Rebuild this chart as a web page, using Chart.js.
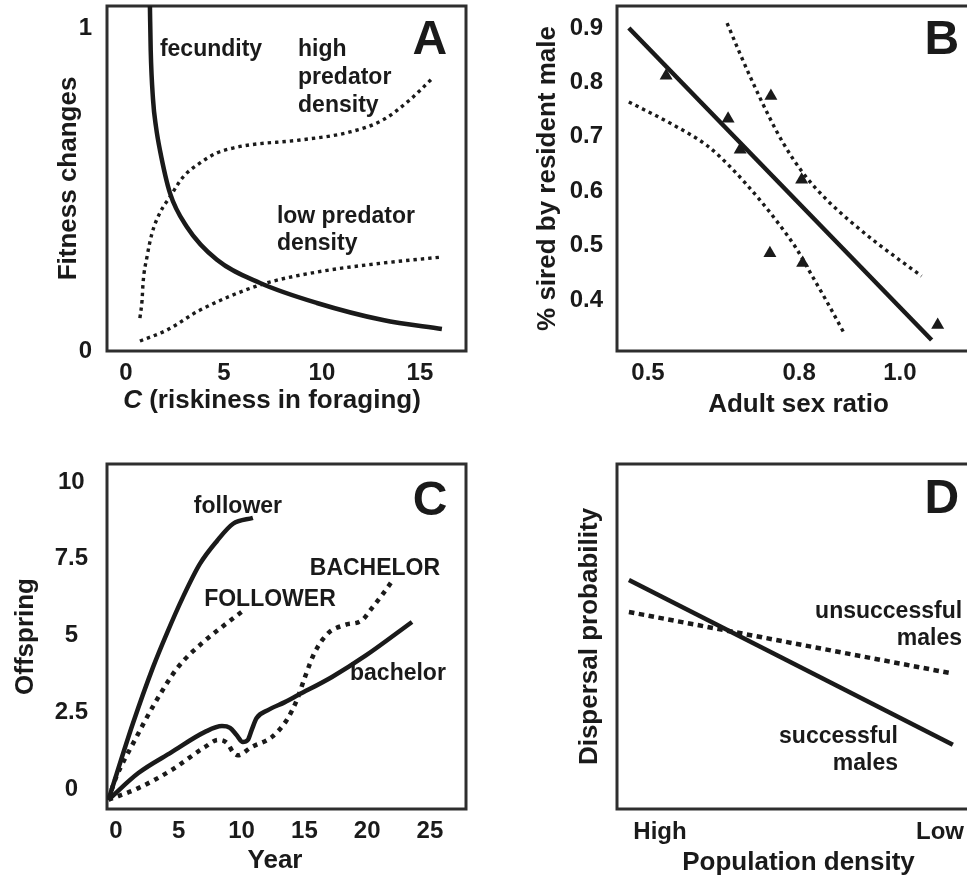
<!DOCTYPE html>
<html>
<head>
<meta charset="utf-8">
<script src="https://cdn.jsdelivr.net/npm/chart.js@4.4.1/dist/chart.umd.min.js"></script>
<style>
html, body { margin:0; padding:0; background:#fff; overflow:hidden; width:967px; height:878px; }
canvas { position:absolute; }
#panelA { left:0; top:0; }
#panelB { left:480px; top:0; }
#panelC { left:0; top:440px; }
#panelD { left:480px; top:440px; }
</style>
</head>
<body>
<canvas id="panelA" width="480" height="430"></canvas>
<canvas id="panelB" width="500" height="430"></canvas>
<canvas id="panelC" width="480" height="438"></canvas>
<canvas id="panelD" width="500" height="438"></canvas>
<script>
// ---- panel A: fitness changes vs riskiness in foraging
var riskTicks = [0, 5, 10, 15];
var fitnessTicks = [0, 1];
var fecundityC   = [1.22, 1.26, 1.38, 1.53, 1.73, 2.24, 3.11, 4.64, 6.84, 9.74, 13.11, 16.12];
var fecundityFit = [1.071, 0.935, 0.780, 0.696, 0.624, 0.491, 0.385, 0.283, 0.211, 0.149, 0.096, 0.068];
var highPredC   = [0.71, 0.82, 0.87, 1.07, 1.33, 1.73, 2.24, 2.91, 3.78, 4.64, 5.46, 6.33, 8.88, 11.43, 13.1, 14.49, 15.66];
var highPredFit = [0.102, 0.158, 0.211, 0.292, 0.366, 0.429, 0.478, 0.540, 0.584, 0.615, 0.630, 0.640, 0.655, 0.680, 0.717, 0.780, 0.848];
var lowPredC   = [0.71, 2.09, 3.78, 6.84, 9.74, 13.11, 16.17];
var lowPredFit = [0.031, 0.065, 0.127, 0.205, 0.245, 0.273, 0.292];

// ---- panel B: % sired by resident male vs adult sex ratio
var sexRatioTicks = [0.5, 0.8, 1.0];
var siredTicks = [0.4, 0.5, 0.6, 0.7, 0.8, 0.9];
var obsSexRatio = [0.536, 0.659, 0.683, 0.744, 0.805, 0.742, 0.807, 1.075];
var obsSired    = [0.812, 0.733, 0.676, 0.775, 0.621, 0.486, 0.468, 0.354];
var fitSexRatio = [0.462, 1.063];
var fitSired    = [0.900, 0.3265];
var upperCiX = [0.657, 0.683, 0.708, 0.742, 0.768, 0.808, 0.855, 0.901, 0.954, 1.0, 1.043];
var upperCiY = [0.909, 0.852, 0.800, 0.734, 0.689, 0.633, 0.584, 0.545, 0.505, 0.473, 0.444];
var lowerCiX = [0.462, 0.55, 0.617, 0.663, 0.722, 0.762, 0.795, 0.821, 0.855, 0.891];
var lowerCiY = [0.764, 0.722, 0.684, 0.645, 0.584, 0.537, 0.494, 0.452, 0.397, 0.336];

// ---- panel C: offspring vs year
var yearTicks = [0, 5, 10, 15, 20, 25];
var offspringTicks = [0, 2.5, 5, 7.5, 10];
var followerYear = [-0.6, 1.35, 2.95, 4.06, 5.33, 6.69, 8.04, 9.32, 10.9];
var followerOff  = [-0.35, 2.14, 3.97, 5.08, 6.25, 7.34, 8.08, 8.64, 8.83];
var followerBigYear = [-0.6, -0.08, 1.51, 3.1, 4.94, 6.85, 8.44, 10.2];
var followerBigOff  = [-0.35, 0.29, 1.6, 2.8, 3.97, 4.75, 5.28, 5.83];
var bachelorYear = [-0.6, 1.78, 4.43, 7.09, 8.44, 9.08, 9.6, 10.1, 10.5, 10.8, 11.2, 12.1, 13.45, 14.5, 17.2, 19.9, 23.57];
var bachelorOff  = [-0.35, 0.52, 1.2, 1.86, 2.05, 1.99, 1.76, 1.53, 1.6, 1.92, 2.31, 2.57, 2.83, 3.06, 3.65, 4.35, 5.44];
var bachelorBigYear = [-0.6, 1.78, 4.43, 7.09, 8.12, 8.84, 9.32, 9.7, 10.8, 12.4, 13.6, 14.4, 15.05, 15.8, 16.9, 18.2, 19.6, 20.3, 21.3, 22.05];
var bachelorBigOff  = [-0.35, 0.03, 0.62, 1.37, 1.6, 1.5, 1.2, 1.1, 1.37, 1.69, 2.25, 2.9, 3.65, 4.43, 5.08, 5.34, 5.5, 5.85, 6.38, 6.81];

// ---- panel D: dispersal probability vs population density
var densityLabels = ['High', 'Low'];
var successfulX = [-0.111, 1.046];
var successfulY = [0.664, 0.186];
var unsuccessfulX = [-0.111, 1.036];
var unsuccessfulY = [0.571, 0.394];

var INK = '#1a1a1a';
var FONT = '"Liberation Sans", Arial, Helvetica, sans-serif';
Chart.defaults.font.family = FONT;
Chart.defaults.font.weight = 'bold';
Chart.defaults.color = INK;

function pts(xs, ys){
	return xs.map(function(x, i){ return {x:x, y:ys[i]}; });
}
function solid(xs, ys, w){
	return {data:pts(xs, ys), showLine:true, borderColor:INK, borderWidth:w, pointRadius:0, cubicInterpolationMode:'monotone', fill:false};
}
function dotted(xs, ys, w, dash){
	var d = solid(xs, ys, w);
	d.borderDash = dash;
	return d;
}
function fontStr(italic, size){
	return (italic ? 'italic ' : '') + 'bold ' + size + 'px ' + FONT;
}

// box round the plot area
var boxPlugin = {
	id:'box',
	beforeDatasetsDraw:function(chart){
		var a = chart.chartArea, ctx = chart.ctx;
		ctx.save();
		ctx.strokeStyle = '#2e2e2e';
		ctx.lineWidth = 3;
		ctx.strokeRect(a.left, a.top, a.right - a.left, a.bottom - a.top);
		ctx.restore();
	}
};
// text labels placed in data coordinates
var notesPlugin = {
	id:'notes',
	afterDatasetsDraw:function(chart, args, opts){
		var ctx = chart.ctx, xs = chart.scales.x, ys = chart.scales.y;
		ctx.save();
		ctx.fillStyle = INK;
		ctx.textBaseline = 'middle';
		ctx.textAlign = 'left';
		(opts.items || []).forEach(function(n){
			var size = n.size || 23;
			var parts = n.parts || [{text:n.text}];
			var widths = parts.map(function(p){ ctx.font = fontStr(p.italic, size); return ctx.measureText(p.text).width; });
			var total = widths.reduce(function(s, w){ return s + w; }, 0);
			var px = xs.getPixelForValue(n.x), py = ys.getPixelForValue(n.y);
			if(n.align == 'center') px -= total / 2;
			else if(n.align == 'right') px -= total;
			parts.forEach(function(p, i){
				ctx.font = fontStr(p.italic, size);
				ctx.fillText(p.text, px, py);
				px += widths[i];
			});
		});
		ctx.restore();
	}
};

function axis(o){
	var ax = {
		type:'linear', min:o.min, max:o.max,
		grid:{display:false, drawTicks:false},
		border:{display:false},
		afterFit:function(scale){
			if(o.horizontal) scale.height = o.size; else scale.width = o.size;
			// keep tick labels from pushing the plot box around
			scale.paddingTop = 0; scale.paddingBottom = 0;
			scale.paddingLeft = 0; scale.paddingRight = 0;
		},
		ticks:{display:!!o.ticks, padding:o.pad || 0, font:{size:24, weight:'bold'}, maxRotation:0, autoSkip:false, crossAlign:o.crossAlign || 'near'},
		title:{display:!!o.title, text:o.title, font:{size:26, weight:'bold'}, padding:o.titlePad || 0}
	};
	if(o.ticks){
		ax.afterBuildTicks = function(scale){ scale.ticks = o.ticks.map(function(v){ return {value:v}; }); };
	}
	if(o.fmt) ax.ticks.callback = o.fmt;
	return ax;
}

function baseOptions(padding, x, y, notes){
	return {
		responsive:false, animation:false, devicePixelRatio:1,
		layout:{padding:padding, autoPadding:false},
		scales:{x:x, y:y},
		plugins:{legend:{display:false}, tooltip:{enabled:false}, notes:{items:notes}}
	};
}

new Chart(document.getElementById('panelA'), {
	type:'scatter',
	data:{datasets:[
		solid(fecundityC, fecundityFit, 4.5),
		dotted(highPredC, highPredFit, 3.4, [3.4, 4]),
		dotted(lowPredC, lowPredFit, 3.4, [3.4, 4])
	]},
	options:baseOptions({top:6, right:14, left:0, bottom:0},
		axis({horizontal:true, size:79, min:-0.97, max:17.35, ticks:riskTicks, pad:8, fmt:function(v){ return String(v); }}),
		axis({size:107, min:0, max:1.071, ticks:fitnessTicks, pad:15, fmt:function(v){ return String(v); },
			title:'Fitness changes', titlePad:{top:53, bottom:0}}),
		[
			{text:'fecundity', x:1.73, y:0.935},
			{text:'high', x:8.78, y:0.935},
			{text:'predator', x:8.78, y:0.848},
			{text:'density', x:8.78, y:0.761},
			{text:'low predator', x:7.70, y:0.416},
			{text:'density', x:7.70, y:0.332},
			{text:'A', x:15.5, y:0.963, size:48, align:'center'},
			{parts:[{text:'C', italic:true}, {text:' (riskiness in foraging)'}], x:7.45, y:-0.155, size:26, align:'center'}
		]),
	plugins:[boxPlugin, notesPlugin]
});

var triangles = {data:pts(obsSexRatio, obsSired), showLine:false, pointStyle:'triangle', pointRadius:7.5, backgroundColor:INK, borderColor:INK, borderWidth:0};
new Chart(document.getElementById('panelB'), {
	type:'scatter',
	data:{datasets:[
		solid(fitSexRatio, fitSired, 4.5),
		dotted(upperCiX, upperCiY, 3.4, [3.4, 4]),
		dotted(lowerCiX, lowerCiY, 3.4, [3.4, 4]),
		triangles
	]},
	options:baseOptions({top:6, right:0, left:0, bottom:0},
		axis({horizontal:true, size:79, min:0.4385, max:1.159, ticks:sexRatioTicks, pad:8, fmt:function(v){ return v.toFixed(1); },
			title:'Adult sex ratio', titlePad:{top:0, bottom:10}}),
		axis({size:137, min:0.3062, max:0.9404, ticks:siredTicks, pad:14, fmt:function(v){ return v.toFixed(1); },
			title:'% sired by resident male', titlePad:{top:52, bottom:0}}),
		[
			{text:'B', x:1.083, y:0.876, size:48, align:'center'}
		]),
	plugins:[boxPlugin, notesPlugin]
});

new Chart(document.getElementById('panelC'), {
	type:'scatter',
	data:{datasets:[
		solid(followerYear, followerOff, 4.5),
		dotted(followerBigYear, followerBigOff, 4.5, [4.5, 5.5]),
		solid(bachelorYear, bachelorOff, 4.5),
		dotted(bachelorBigYear, bachelorBigOff, 4.5, [4.5, 5.5])
	]},
	options:baseOptions({top:24, right:14, left:0, bottom:0},
		axis({horizontal:true, size:69, min:-0.717, max:27.87, ticks:yearTicks, pad:8, fmt:function(v){ return String(v); }}),
		axis({size:107, min:-0.651, max:10.586, ticks:offspringTicks, pad:19, crossAlign:'center', fmt:function(v){ return String(v); },
			title:'Offspring', titlePad:{top:10, bottom:0}}),
		[
			{text:'follower', x:9.71, y:9.19, align:'center'},
			{text:'FOLLOWER', x:12.26, y:6.16, align:'center'},
			{text:'BACHELOR', x:20.62, y:7.17, align:'center'},
			{text:'bachelor', x:22.45, y:3.75, align:'center'},
			{text:'C', x:25.0, y:9.35, size:48, align:'center'},
			{text:'Year', x:12.66, y:-2.345, size:26, align:'center'}
		]),
	plugins:[boxPlugin, notesPlugin]
});

new Chart(document.getElementById('panelD'), {
	type:'scatter',
	data:{datasets:[
		solid(successfulX, successfulY, 4.5),
		dotted(unsuccessfulX, unsuccessfulY, 4.5, [5.5, 4.5])
	]},
	options:baseOptions({top:24, right:0, left:0, bottom:0},
		axis({horizontal:true, size:69, min:-0.1536, max:1.143, ticks:[0, 1], pad:9, fmt:function(v){ return densityLabels[v]; },
			title:'Population density', titlePad:{top:0, bottom:0}}),
		axis({size:137, min:0, max:1, title:'Dispersal probability', titlePad:{top:94, bottom:0}}),
		[
			{text:'unsuccessful', x:1.079, y:0.571, align:'right'},
			{text:'males', x:1.079, y:0.493, align:'right'},
			{text:'successful', x:0.85, y:0.209, align:'right'},
			{text:'males', x:0.85, y:0.130, align:'right'},
			{text:'D', x:1.007, y:0.896, size:48, align:'center'}
		]),
	plugins:[boxPlugin, notesPlugin]
});
</script>
</body>
</html>
